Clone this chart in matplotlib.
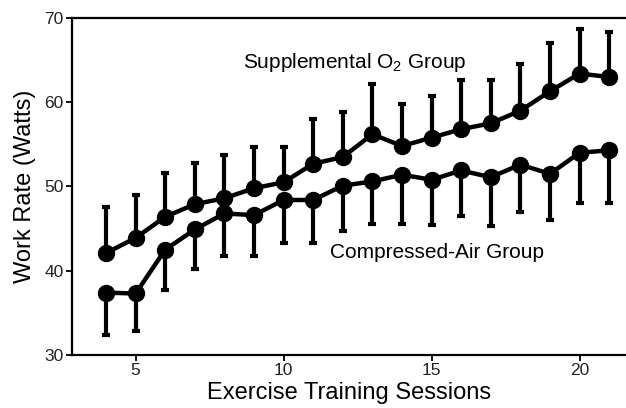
import numpy as np
import matplotlib
matplotlib.use("Agg")
import matplotlib.pyplot as plt

plt.rcParams['font.family'] = ['Liberation Sans', 'DejaVu Sans']
plt.rcParams['mathtext.fontset'] = 'custom'
plt.rcParams['mathtext.rm'] = 'Liberation Sans'
plt.rcParams['mathtext.it'] = 'Liberation Sans'

sessions = [4, 5, 6, 7, 8, 9, 10, 11, 12, 13, 14, 15, 16, 17, 18, 19, 20, 21]
o2_mean = [42.1, 43.9, 46.4, 47.9, 48.6, 49.8, 50.5, 52.7, 53.5, 56.2, 54.8, 55.8,
           56.8, 57.5, 59.0, 61.3, 63.4, 63.0]
o2_upper = [47.6, 49.0, 51.6, 52.8, 53.7, 54.7, 54.7, 58.0, 58.8, 62.2, 59.8, 60.7,
            62.7, 62.7, 64.5, 67.0, 68.7, 68.3]
air_mean = [37.4, 37.3, 42.5, 44.9, 46.8, 46.6, 48.4, 48.4, 50.1, 50.6, 51.4, 50.8,
            51.9, 51.1, 52.6, 51.5, 54.0, 54.3]
air_lower = [32.4, 32.9, 37.7, 40.2, 41.7, 41.7, 43.3, 43.3, 44.7, 45.6, 45.6, 45.4,
             46.5, 45.3, 47.0, 46.0, 48.1, 48.1]
x_ticks = [5, 10, 15, 20]
y_ticks = [30, 40, 50, 60, 70]

x = np.array(sessions)
o2m = np.array(o2_mean)
o2u = np.array(o2_upper)
am = np.array(air_mean)
al = np.array(air_lower)

fig = plt.figure(figsize=(6.26, 4.08), dpi=100)
ax = fig.add_axes([72/626, 1-355/408, 1-72/626, (355-18)/408])

common = dict(color='black', lw=3.2, marker='o', markersize=11.5, elinewidth=3.0,
              capsize=2.8, capthick=3.0, ecolor='black', zorder=3)
ax.errorbar(x, o2m, yerr=[np.zeros_like(o2m), o2u - o2m], **common)
ax.errorbar(x, am, yerr=[am - al, np.zeros_like(am)], **common)

ax.set_xlim(2.85, 21.57)
ax.set_ylim(30, 70)
ax.set_xticks(x_ticks)
ax.set_yticks(y_ticks)
for s in ['left', 'bottom', 'top']:
    ax.spines[s].set_linewidth(1.6)
ax.spines['right'].set_visible(False)
ax.tick_params(direction='out', length=4, width=1.3, labelsize=12.5,
               labelcolor='#222222', pad=2)

ax.set_xlabel('Exercise Training Sessions', fontsize=17, labelpad=3)
ax.set_ylabel('Work Rate (Watts)', fontsize=17, labelpad=6)

ax.text(243/626, 1-68/408, r'Supplemental O$_2$ Group', transform=fig.transFigure,
        fontsize=15, ha='left', va='baseline')
ax.text(330/626, 1-258/408, 'Compressed-Air Group', transform=fig.transFigure,
        fontsize=15, ha='left', va='baseline')

fig.savefig('out.png', dpi=100)
